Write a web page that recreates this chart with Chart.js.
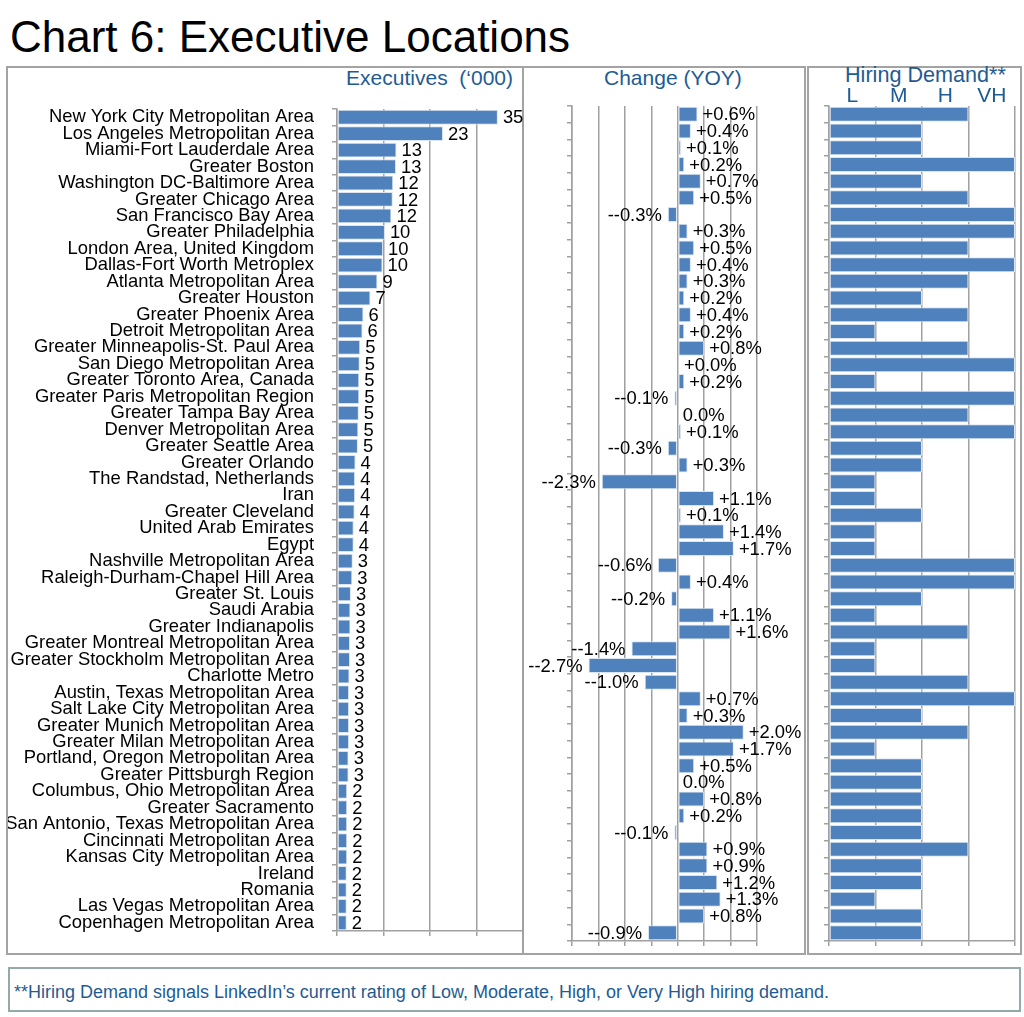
<!DOCTYPE html>
<html>
<head>
<meta charset="utf-8">
<script src="https://cdn.jsdelivr.net/npm/chart.js@4/dist/chart.umd.min.js"></script>
<style>
  body { margin: 0; background: #fff; }
  #wrap { position: relative; width: 1024px; height: 1017px; font-family: "Liberation Sans", Arial, sans-serif; }
  .abs { position: absolute; }
  .panel { position: absolute; border: 2px solid #a3a3a3; box-sizing: border-box; }
  .ptitle { position: absolute; color: #1f5b93; font-size: 21px; line-height: 21px; white-space: pre; }
  canvas { position: absolute; }
</style>
</head>
<body>
<div id="wrap">
  <div class="abs" style="left:10px;top:15px;font-size:44px;line-height:44px;color:#000;">Chart 6: Executive Locations</div>

  <div class="panel" style="left:6px;top:66px;width:518px;height:889px;"></div>
  <div class="panel" style="left:522px;top:66px;width:284px;height:889px;"></div>
  <div class="panel" style="left:807px;top:66px;width:215px;height:889px;"></div>

  <div class="ptitle" style="right:511px;top:67px;">Executives  (‘000)</div>
  <div class="ptitle" style="left:604px;top:67px;">Change (YOY)</div>
  <div class="ptitle" style="left:845px;top:64px;font-size:21.6px;">Hiring Demand**</div>

  <canvas id="exec" width="522" height="880" style="left:8px;top:80px;"></canvas>
  <canvas id="chg" width="282" height="880" style="left:523px;top:80px;"></canvas>
  <canvas id="hire" width="215" height="880" style="left:807px;top:80px;"></canvas>

  <div class="abs" style="left:8px;top:967px;width:1013px;height:45px;border:2px solid #93aaa8;box-sizing:border-box;"></div>
  <div class="abs" style="left:14px;top:983px;font-size:18px;line-height:18px;color:#1f5b93;white-space:nowrap;">**Hiring Demand signals LinkedIn’s current rating of Low, Moderate, High, or Very High hiring demand.</div>
</div>

<script>
// categories, top to bottom
var locations = [
  'New York City Metropolitan Area',
  'Los Angeles Metropolitan Area',
  'Miami-Fort Lauderdale Area',
  'Greater Boston',
  'Washington DC-Baltimore Area',
  'Greater Chicago Area',
  'San Francisco Bay Area',
  'Greater Philadelphia',
  'London Area, United Kingdom',
  'Dallas-Fort Worth Metroplex',
  'Atlanta Metropolitan Area',
  'Greater Houston',
  'Greater Phoenix Area',
  'Detroit Metropolitan Area',
  'Greater Minneapolis-St. Paul Area',
  'San Diego Metropolitan Area',
  'Greater Toronto Area, Canada',
  'Greater Paris Metropolitan Region',
  'Greater Tampa Bay Area',
  'Denver Metropolitan Area',
  'Greater Seattle Area',
  'Greater Orlando',
  'The Randstad, Netherlands',
  'Iran',
  'Greater Cleveland',
  'United Arab Emirates',
  'Egypt',
  'Nashville Metropolitan Area',
  'Raleigh-Durham-Chapel Hill Area',
  'Greater St. Louis',
  'Saudi Arabia',
  'Greater Indianapolis',
  'Greater Montreal Metropolitan Area',
  'Greater Stockholm Metropolitan Area',
  'Charlotte Metro',
  'Austin, Texas Metropolitan Area',
  'Salt Lake City Metropolitan Area',
  'Greater Munich Metropolitan Area',
  'Greater Milan Metropolitan Area',
  'Portland, Oregon Metropolitan Area',
  'Greater Pittsburgh Region',
  'Columbus, Ohio Metropolitan Area',
  'Greater Sacramento',
  'San Antonio, Texas Metropolitan Area',
  'Cincinnati Metropolitan Area',
  'Kansas City Metropolitan Area',
  'Ireland',
  'Romania',
  'Las Vegas Metropolitan Area',
  'Copenhagen Metropolitan Area'
];

// executives ('000)
var executives = [34.6, 22.8, 12.8, 12.7, 12.1, 12.0, 11.7, 10.3, 9.9, 9.8,
  8.7, 7.2, 5.7, 5.5, 5.0, 4.9, 4.8, 4.8, 4.7, 4.6,
  4.5, 4.0, 3.9, 3.9, 3.8, 3.6, 3.6, 3.4, 3.3, 3.0,
  2.9, 2.9, 2.8, 2.8, 2.7, 2.6, 2.6, 2.6, 2.6, 2.5,
  2.5, 2.2, 2.2, 2.2, 2.2, 2.2, 2.1, 2.1, 2.1, 2.1];

// change YOY in %
var changeYoy = [0.6, 0.4, 0.1, 0.2, 0.7, 0.5, -0.3, 0.3, 0.5, 0.4,
  0.3, 0.2, 0.4, 0.2, 0.8, 0.04, 0.2, -0.1, 0.0, 0.1,
  -0.3, 0.3, -2.3, 1.1, 0.1, 1.4, 1.7, -0.6, 0.4, -0.2,
  1.1, 1.6, -1.4, -2.7, -1.0, 0.7, 0.3, 2.0, 1.7, 0.5,
  0.0, 0.8, 0.2, -0.1, 0.9, 0.9, 1.2, 1.3, 0.8, -0.9];

// hiring demand: 1=L 2=M 3=H 4=VH
var hiringDemand = [3, 2, 2, 4, 2, 3, 4, 4, 3, 4,
  3, 2, 3, 1, 3, 4, 1, 4, 3, 4,
  2, 2, 1, 1, 2, 1, 1, 4, 4, 2,
  1, 3, 1, 1, 3, 4, 2, 3, 1, 2,
  2, 2, 2, 2, 3, 2, 2, 1, 2, 2];

var hiringTicks = ['L', 'M', 'H', 'VH'];
var execTicks = [0, 10, 20, 30, 40];
var changeTicks = [-3.2, -2.4, -1.6, -0.8, 0, 0.8, 1.6, 2.4];

var FONT = '"Liberation Sans", Arial, sans-serif';
var BLUE = '#4f81bd';
var GRID = '#a0a0a0';

// draws the value text next to each bar
function valueLabels(fmt) {
  return {
    id: 'valueLabels',
    afterDatasetsDraw: function (chart) {
      var ctx = chart.ctx;
      var meta = chart.getDatasetMeta(0);
      var data = chart.data.datasets[0].data;
      ctx.save();
      ctx.font = '18.4px ' + FONT;
      ctx.fillStyle = '#000';
      ctx.textBaseline = 'middle';
      meta.data.forEach(function (bar, i) {
        var v = data[i];
        if (v < 0) {
          ctx.textAlign = 'right';
          ctx.fillText(fmt(v), bar.x - 6, bar.y + 1);
        } else {
          ctx.textAlign = 'left';
          ctx.fillText(fmt(v), bar.x + 5, bar.y + 1);
        }
      });
      ctx.restore();
    }
  };
}

function barSet(values) {
  return {
    data: values,
    backgroundColor: BLUE,
    borderColor: '#dbe5f1',
    borderWidth: 1,
    borderSkipped: false,
    barPercentage: 0.9,
    categoryPercentage: 1
  };
}

function xAxis(min, max, ticks) {
  return {
    min: min,
    max: max,
    afterBuildTicks: function (s) { s.ticks = ticks.map(function (v) { return { value: v }; }); },
    ticks: { display: false },
    grid: { color: GRID, lineWidth: 1.5, tickLength: 5 },
    border: { color: GRID, width: 1.5 },
    afterFit: function (s) { s.height = 19; }
  };
}

function yAxis(width, showLabels) {
  return {
    ticks: {
      display: showLabels,
      autoSkip: false,
      color: '#000',
      padding: 18,
      font: { size: 18.4, family: FONT }
    },
    grid: { drawOnChartArea: false, color: GRID, lineWidth: 1.5, tickLength: 5, offset: true },
    border: { color: GRID, width: 1.5 },
    afterFit: function (s) { s.width = width; }
  };
}

var common = {
  indexAxis: 'y',
  responsive: false,
  animation: false,
  plugins: { legend: { display: false }, tooltip: { enabled: false } }
};

// Executives
new Chart(document.getElementById('exec'), {
  type: 'bar',
  data: { labels: locations, datasets: [barSet(executives)] },
  options: Object.assign({}, common, {
    layout: { padding: { top: 26, right: 7 } },
    scales: { x: xAxis(0, 40, execTicks), y: yAxis(329, true) }
  }),
  plugins: [valueLabels(function (v) { return String(Math.round(v)); })]
});

// Change (YOY)
new Chart(document.getElementById('chg'), {
  type: 'bar',
  data: { labels: locations, datasets: [barSet(changeYoy)] },
  options: Object.assign({}, common, {
    layout: { padding: { top: 26, right: 48 } },
    scales: { x: xAxis(-3.2, 2.4, changeTicks), y: yAxis(49, false) }
  }),
  plugins: [valueLabels(function (v) {
    if (v > 0) return '+' + v.toFixed(1) + '%';
    if (v < 0) return '-' + v.toFixed(1) + '%';
    return '0.0%';
  })]
});

// Hiring demand
new Chart(document.getElementById('hire'), {
  type: 'bar',
  data: { labels: locations, datasets: [barSet(hiringDemand)] },
  options: Object.assign({}, common, {
    layout: { padding: { top: 0, right: 7 } },
    scales: {
      x: xAxis(0, 4, [0, 1, 2, 3, 4]),
      x2: {
        type: 'category',
        position: 'top',
        labels: hiringTicks,
        offset: true,
        grid: { display: false, drawTicks: false },
        border: { display: false },
        ticks: { color: '#1f5b93', padding: 0, font: { size: 21, family: FONT, lineHeight: 0.9 } },
        afterFit: function (s) { s.height = 26; }
      },
      y: yAxis(22, false)
    }
  })
});
</script>
</body>
</html>
